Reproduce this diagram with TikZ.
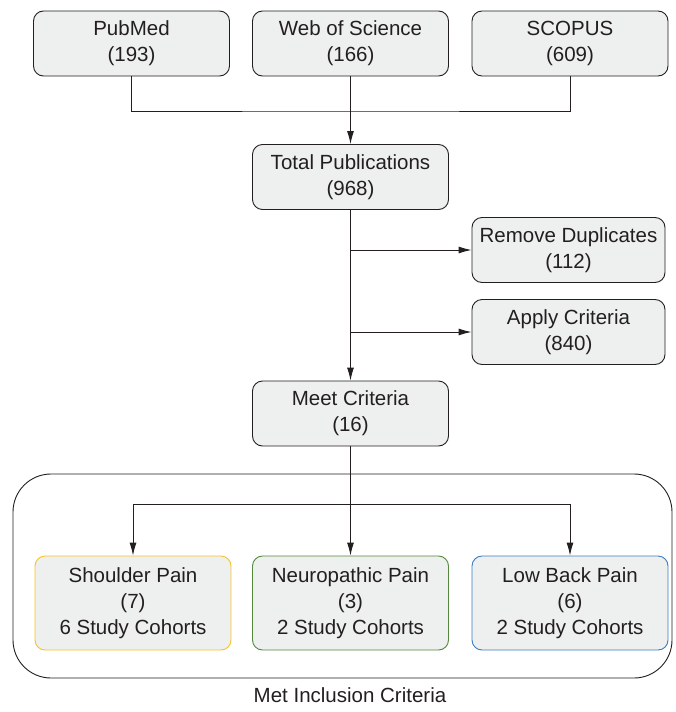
\documentclass[tikz,border=0pt]{standalone}
\usepackage{fontspec}
\setmainfont{Liberation Sans}
\usepackage{tikz}
\usetikzlibrary{positioning,arrows.meta,calc}
\usepackage{xcolor}
\definecolor{boxgray}{RGB}{238,239,239}
\definecolor{linegray}{RGB}{35,31,32}
\definecolor{shouldercol}{RGB}{246,196,40}
\definecolor{neurocol}{RGB}{84,136,60}
\definecolor{backcol}{RGB}{58,124,192}

\tikzset{
  stepbox/.style={draw=linegray, line width=0.9pt, fill=boxgray, rounded corners=10pt,
    minimum width=196pt, minimum height=65pt, align=center, text=linegray,
    font=\fontsize{20.5}{26}\selectfont, inner sep=0pt},
  cohortbox/.style={stepbox, minimum height=94pt},
  link/.style={draw=linegray, line width=0.9pt},
  arr/.style={link, -{Latex[length=13pt,width=7pt]}}
}

\begin{document}
\begin{tikzpicture}[x=1pt,y=-1pt]
\useasboundingbox (0,0) rectangle (675,712);
% sources
\node[stepbox] (pubmed) at (131.5,43.5) {PubMed\\(193)};
\node[stepbox] (wos) at (350.5,43.5) {Web of Science\\(166)};
\node[stepbox] (scopus) at (570,43.5) {SCOPUS\\(609)};
\coordinate (join) at (350.5,111);
% screening
\node[stepbox] (total) at (350.5,177) {Total Publications\\(968)};
\node[stepbox, minimum width=193pt] (remove) at (568.5,250) {Remove Duplicates\\(112)};
\node[stepbox, minimum width=193pt] (apply) at (568.5,332) {Apply Criteria\\(840)};
\node[stepbox] (meet) at (350.5,413.5) {Meet Criteria\\(16)};
% groups
\node[draw=linegray, line width=0.9pt, rounded corners=38pt, minimum width=659pt,
  minimum height=204pt] (group) at (342.5,576) {};
\coordinate (split) at (350.5,504);
\node[cohortbox, draw=shouldercol] (shoulder) at (133,603) {Shoulder Pain\\(7)\\6 Study Cohorts};
\node[cohortbox, draw=neurocol] (neuro) at (350.5,603) {Neuropathic Pain\\(3)\\2 Study Cohorts};
\node[cohortbox, draw=backcol] (lowback) at (570,603) {Low Back Pain\\(6)\\2 Study Cohorts};
\node[text=linegray, font=\fontsize{20.5}{24}\selectfont] (caption) at (350,695) {Met Inclusion Criteria};

\draw[link] (pubmed.south) |- (join) -| (scopus.south);
\draw[arr] (wos.south) -- (total.north);
\draw[arr] (total.south) -- (meet.north);
\draw[arr] (total.south |- remove.west) -- (remove.west);
\draw[arr] (total.south |- apply.west) -- (apply.west);
\draw[arr] (meet.south) -- (neuro.north);
\draw[arr] (split) -| (shoulder.north);
\draw[arr] (split) -| (lowback.north);
\end{tikzpicture}
\end{document}
